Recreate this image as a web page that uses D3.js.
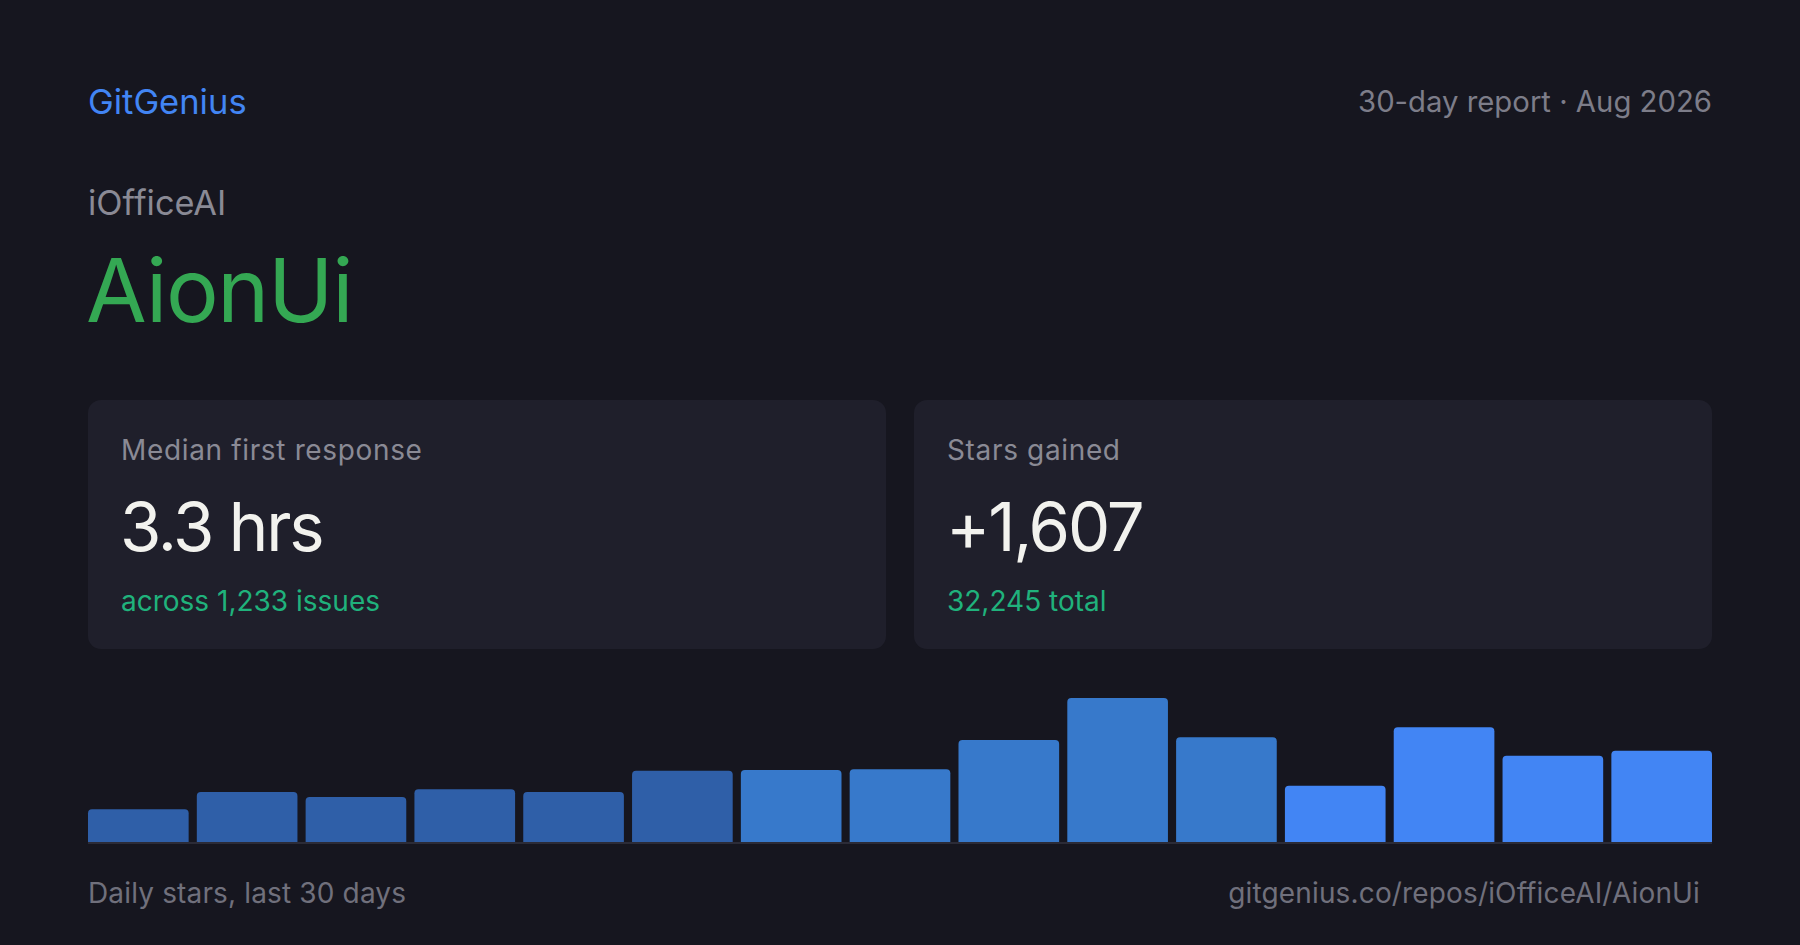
<!DOCTYPE html>
<html>
<head>
<meta charset="utf-8">
<script src="https://cdn.jsdelivr.net/npm/d3@7/dist/d3.min.js"></script>
<style>
  html, body { margin: 0; padding: 0; background: #16161f; }
  svg { display: block; }
  text { font-family: Inter, "Noto Sans", sans-serif; }
</style>
</head>
<body>
<svg id="chart" width="1800" height="945"></svg>
<script>
// ---- data ----
const brand = "GitGenius";
const reportLabel = "30-day report · Aug 2026";
const owner = "iOfficeAI";
const repo = "AionUi";
const cardLabels = ["Median first response", "Stars gained"];
const cardValues = ["3.3 hrs", "+1,607"];
const cardSubs = ["across 1,233 issues", "32,245 total"];
const barPeriods = ["1","2","3","4","5","6","7","8","9","10","11","12","13","14","15"];
const barStars = [46, 70, 63, 74, 70, 100, 101, 102, 143, 202, 147, 79, 161, 121, 128];
const barGroup = [0, 0, 0, 0, 0, 0, 1, 1, 1, 1, 1, 2, 2, 2, 2];
const groupColors = ["#2f5fa8", "#3779cb", "#4285f4"];
const footerLeft = "Daily stars, last 30 days";
const footerRight = "gitgenius.co/repos/iOfficeAI/AionUi";

// ---- layout ----
const W = 1800, H = 945;
const left = 88, right = 1712;
const svg = d3.select("#chart");

svg.append("rect").attr("width", W).attr("height", H).attr("fill", "#16161f");

// header
svg.append("text").attr("x", left).attr("y", 114)
  .attr("font-size", 34.5).attr("fill", "#4285f4").text(brand);
svg.append("text").attr("x", right).attr("y", 112).attr("text-anchor", "end")
  .attr("font-size", 29.3).attr("fill", "#7d7d89").text(reportLabel);
svg.append("text").attr("x", left).attr("y", 215)
  .attr("font-size", 34.3).attr("fill", "#8a8a95").text(owner);
svg.append("text").attr("x", left - 2).attr("y", 322)
  .attr("font-size", 88).attr("letter-spacing", -1.3).attr("fill", "#34a853").text(repo);

// cards
const gap = 28;
const cardW = (right - left - gap) / 2;
const cardX = d3.scaleBand().domain(d3.range(cardLabels.length))
  .range([left, right + gap]).paddingInner(0).paddingOuter(0);
const cards = svg.selectAll("g.card").data(cardLabels.map((l, i) => ({ l, v: cardValues[i], s: cardSubs[i], i })))
  .join("g").attr("class", "card")
  .attr("transform", d => `translate(${cardX(d.i)},400)`);
cards.append("rect").attr("width", cardW).attr("height", 249).attr("rx", 13).attr("fill", "#1f1f2b");
cards.append("text").attr("x", 33).attr("y", 60).attr("font-size", 28).attr("letter-spacing", 0.65)
  .attr("fill", "#8a8a95").text(d => d.l);
cards.append("text").attr("x", 32).attr("y", 151).attr("font-size", 67).attr("letter-spacing", -2.2)
  .attr("fill", "#f2f2ee").text(d => d.v);
cards.append("text").attr("x", 33).attr("y", 211).attr("font-size", 28).attr("fill", "#20b27c").text(d => d.s);

// bars
const baseY = 842;
const x = d3.scaleBand().domain(barPeriods).range([left, right]).paddingInner(0.075).paddingOuter(0);
const y = d3.scaleLinear().domain([0, d3.max(barStars)]).range([baseY, 698]);
const r = 4;
svg.append("g").selectAll("path").data(barStars.map((v, i) => ({ v, i })))
  .join("path")
  .attr("fill", d => groupColors[barGroup[d.i]])
  .attr("d", d => {
    const x0 = x(barPeriods[d.i]), w = x.bandwidth(), y0 = y(d.v), yb = y(0);
    return `M${x0},${yb}V${y0 + r}Q${x0},${y0} ${x0 + r},${y0}H${x0 + w - r}Q${x0 + w},${y0} ${x0 + w},${y0 + r}V${yb}Z`;
  });
svg.append("rect").attr("x", left).attr("y", baseY).attr("width", right - left).attr("height", 2).attr("fill", "#2b2b37");

// footer
svg.append("text").attr("x", left).attr("y", 903).attr("font-size", 28).attr("letter-spacing", 0.15)
  .attr("fill", "#70707c").text(footerLeft);
svg.append("text").attr("x", 1700).attr("y", 903).attr("text-anchor", "end")
  .attr("font-size", 28).attr("letter-spacing", 0.15).attr("fill", "#70707c").text(footerRight);
</script>
</body>
</html>
